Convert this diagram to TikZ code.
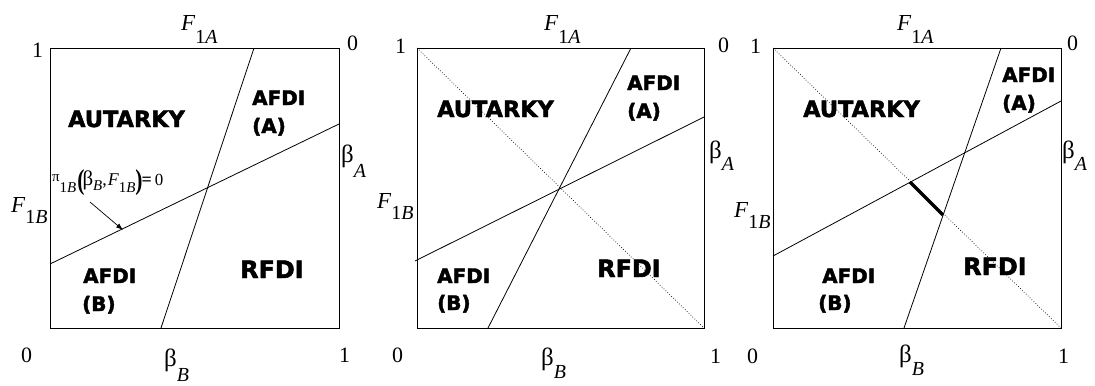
\documentclass[tikz,border=0pt]{standalone}
\usepackage{fontspec}
\usetikzlibrary{arrows.meta}
\setmainfont{Liberation Serif}
\newfontfamily\heavy[BoldFeatures={FakeBold=2}]{DejaVu Sans}
\newcommand\axlab[3]{{\fontsize{23}{23}\selectfont #1}\raisebox{-#3}{\fontsize{20}{20}\selectfont #2}}
\newcommand\bet{{\fontsize{25}{25}\selectfont β}}
\newcommand\fs[1]{\fontsize{#1}{#1}\selectfont}
\begin{document}
\begin{tikzpicture}[x=1bp,y=-1bp,
  region/.style={font=\heavy\bfseries\fontsize{20}{20}\selectfont, anchor=base west, inner sep=0pt},
  autregion/.style={font=\heavy\bfseries\fontsize{22.5}{22.5}\selectfont, anchor=base west, inner sep=0pt},
  bigregion/.style={font=\heavy\bfseries\fontsize{24}{24}\selectfont, anchor=base west, inner sep=0pt},
  axis/.style={font=\fontsize{22}{22}\selectfont, anchor=base west, inner sep=0pt},
  frame/.style={draw, line width=0.8bp},
  curve/.style={line width=0.8bp},
  diag/.style={dotted, line width=0.7bp},
  thick seg/.style={line width=3.5bp},
  arr/.style={-{Latex[length=7bp,width=5bp]}, line width=0.7bp}]
\useasboundingbox (0,0) rectangle (1095,385);
% ---------------- Panel 1
\coordinate (p1tl) at (50,48); \coordinate (p1br) at (339,328);
\draw[frame] (p1tl) rectangle (p1br);
\coordinate (p1st) at (254,48); \coordinate (p1sb) at (161,328);
\coordinate (p1hl) at (50,264); \coordinate (p1hr) at (339,124);
\draw[curve] (p1st) -- (p1sb);
\draw[curve] (p1hl) -- (p1hr);
\node[axis] (p1one) at (32,57) {1};
\node[axis] (p1zero) at (347,50) {0};
\node[axis] (p1zb) at (21,362) {0};
\node[axis] (p1oneb) at (339,362) {1};
\node[axis] (p1F1A) at (181,30) {\axlab{\textit{F}}{1\textit{A}}{13bp}};
\node[axis] (p1bA) at (341,162) {\axlab{\bet}{\textit{A}}{15bp}};
\node[axis] (p1F1B) at (11,212) {\axlab{\textit{F}}{1\textit{B}}{11bp}};
\node[axis] (p1bB) at (164,366) {\axlab{\bet}{\textit{B}}{15bp}};
\node[autregion] (p1aut) at (68,127) {AUTARKY};
\node[region] (p1afa) at (252,105) {AFDI};
\node[region] (p1afa2) at (252,133) {(A)};
\node[region] (p1afb) at (83,283) {AFDI};
\node[region] (p1afb2) at (82,311) {(B)};
\node[bigregion] (p1rf) at (240,278) {RFDI};
\node[anchor=base west, inner sep=0pt, font=\fs{18}] (p1pi) at (52,185)
  {\raisebox{4bp}{\fs{15}π}\raisebox{-7bp}{\fs{15}1\textit{B}}\kern1pt\raisebox{-4bp}{\scalebox{1.2}[1.6]{\fs{18}\bfseries(}}\kern-2pt{\fs{21}β}\raisebox{-5bp}{\fs{15}\textit{B}},\kern1pt\textit{F}\raisebox{-7bp}{\fs{15}1\textit{B}}\raisebox{-4bp}{\scalebox{1.2}[1.6]{\fs{18}\bfseries)}}\kern-1pt{\fs{18}\bfseries=}\,{\fs{17}0}};
\coordinate (p1arrs) at (90,202); \coordinate (p1arre) at (123,230);
\draw[arr] (p1arrs) -- (p1arre);
% ---------------- Panel 2
\coordinate (p2tl) at (417,48); \coordinate (p2br) at (704,328);
\draw[frame] (p2tl) rectangle (p2br);
\coordinate (p2st) at (631,48); \coordinate (p2sb) at (488,328);
\coordinate (p2hl) at (415,261); \coordinate (p2hr) at (704,117);
\draw[diag] (p2tl) -- (p2br);
\draw[curve] (p2st) -- (p2sb);
\draw[curve] (p2hl) -- (p2hr);
\node[axis] (p2one) at (395,53) {1};
\node[axis] (p2zero) at (718,52) {0};
\node[axis] (p2zb) at (392,362) {0};
\node[axis] (p2oneb) at (710,363) {1};
\node[axis] (p2F1A) at (544,30) {\axlab{\textit{F}}{1\textit{A}}{13bp}};
\node[axis] (p2bA) at (709,158) {\axlab{\bet}{\textit{A}}{12bp}};
\node[axis] (p2F1B) at (377,208) {\axlab{\textit{F}}{1\textit{B}}{11bp}};
\node[axis] (p2bB) at (541,365) {\axlab{\bet}{\textit{B}}{13bp}};
\node[autregion] (p2aut) at (437,117) {AUTARKY};
\node[region] (p2afa) at (627,90) {AFDI};
\node[region] (p2afa2) at (627,118) {(A)};
\node[region] (p2afb) at (437,283) {AFDI};
\node[region] (p2afb2) at (437,310) {(B)};
\node[bigregion] (p2rf) at (597,277) {RFDI};
% ---------------- Panel 3
\coordinate (p3tl) at (773,48); \coordinate (p3br) at (1061,328);
\draw[frame] (p3tl) rectangle (p3br);
\coordinate (p3st) at (1001,48); \coordinate (p3sb) at (904,328);
\coordinate (p3hl) at (773,256); \coordinate (p3hr) at (1061,101);
\draw[diag] (p3tl) -- (p3br);
\draw[curve] (p3st) -- (p3sb);
\draw[curve] (p3hl) -- (p3hr);
\coordinate (p3ka) at (910,182); \coordinate (p3kb) at (943,215);
\draw[thick seg] (p3ka) -- (p3kb);
\node[axis] (p3one) at (750,53) {1};
\node[axis] (p3zero) at (1067,50) {0};
\node[axis] (p3zb) at (747,363) {0};
\node[axis] (p3oneb) at (1058,363) {1};
\node[axis] (p3F1A) at (897,30) {\axlab{\textit{F}}{1\textit{A}}{13bp}};
\node[axis] (p3bA) at (1062,158) {\axlab{\bet}{\textit{A}}{12bp}};
\node[axis] (p3F1B) at (734,217) {\axlab{\textit{F}}{1\textit{B}}{11bp}};
\node[axis] (p3bB) at (899,362) {\axlab{\bet}{\textit{B}}{13bp}};
\node[autregion] (p3aut) at (803,117) {AUTARKY};
\node[region] (p3afa) at (1002,82) {AFDI};
\node[region] (p3afa2) at (1002,110) {(A)};
\node[region] (p3afb) at (822,283) {AFDI};
\node[region] (p3afb2) at (818,310) {(B)};
\node[bigregion] (p3rf) at (963,275) {RFDI};
\end{tikzpicture}
\end{document}
